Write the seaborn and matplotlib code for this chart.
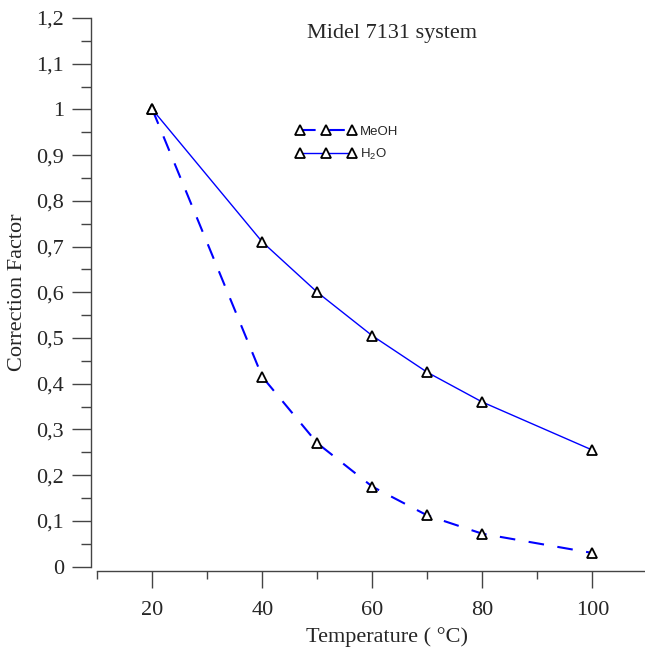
import matplotlib
matplotlib.use("Agg")
import matplotlib.pyplot as plt
import matplotlib.ticker as mticker
import seaborn as sns
import pandas as pd

temperature = [20, 40, 50, 60, 70, 80, 100]
h2o_factor = [1.0, 0.71, 0.60, 0.505, 0.425, 0.36, 0.255]
meoh_factor = [1.0, 0.415, 0.27, 0.175, 0.112, 0.072, 0.03]

df_h2o = pd.DataFrame({"temp": temperature, "factor": h2o_factor})
df_meoh = pd.DataFrame({"temp": temperature, "factor": meoh_factor})

sns.set_style("ticks")
plt.rcParams["font.family"] = ["Liberation Serif", "DejaVu Serif"]
plt.rcParams["mathtext.fontset"] = "custom"
plt.rcParams["mathtext.rm"] = "Liberation Sans"

fig = plt.figure(figsize=(6.45, 6.5), dpi=100)
ax = fig.add_axes([0.1509, 0.1282, 0.8527, 0.8442])

marker_kw = dict(marker="^", markersize=6.5, markerfacecolor="white",
                 markeredgecolor="black", markeredgewidth=1.3)

sns.lineplot(data=df_meoh, x="temp", y="factor", ax=ax, color="#0000ff",
             linewidth=1.5, **marker_kw)
sns.lineplot(data=df_h2o, x="temp", y="factor", ax=ax, color="#0000ff",
             linewidth=1.0, **marker_kw)
l_meoh, l_h2o = ax.get_lines()[:2]
l_meoh.set_dashes([7.5, 6.5])

ax.set_xlim(10, 110)
ax.set_ylim(0, 1.2)
ax.xaxis.set_major_locator(mticker.MultipleLocator(20))
ax.xaxis.set_minor_locator(mticker.MultipleLocator(10))
ax.yaxis.set_major_locator(mticker.MultipleLocator(0.1))
ax.yaxis.set_minor_locator(mticker.MultipleLocator(0.05))
ax.yaxis.set_major_formatter(
    mticker.FuncFormatter(lambda v, p: f"{v:.1f}".replace(".", ",").replace(",0", "")))

for s in ["top", "right"]:
    ax.spines[s].set_visible(False)
ax.spines["left"].set_position(("outward", 4.5))
ax.spines["bottom"].set_position(("outward", 3))
ax.spines["left"].set_bounds(0, 1.2)
ax.spines["bottom"].set_bounds(10, 110)
for s in ["left", "bottom"]:
    ax.spines[s].set_color("#444444")
    ax.spines[s].set_linewidth(1.0)

ax.tick_params(axis="y", which="major", length=13.5, width=1, color="#444444",
               labelsize=16, pad=6)
ax.tick_params(axis="y", which="minor", length=7, width=1, color="#444444")
ax.tick_params(axis="x", which="major", length=12.5, width=1, color="#444444",
               labelsize=16, pad=9)
ax.tick_params(axis="x", which="minor", length=6, width=1, color="#444444")

ax.set_xlabel("Temperature ( °C)", fontsize=16)
ax.set_ylabel("Correction Factor", fontsize=16)
ax.xaxis.set_label_coords(0.527, -0.128)
ax.yaxis.set_label_coords(-0.146, 0.5)
ax.xaxis.label.set_va("center")
ax.yaxis.label.set_va("center")

ax.text(0.536, 0.972, "Midel 7131 system", transform=ax.transAxes,
        ha="center", va="center", fontsize=16)

ax.legend([l_meoh, l_h2o], ["MeOH", "H$_2$O"], loc="upper left",
          bbox_to_anchor=(0.34, 0.826), frameon=False, numpoints=3,
          handlelength=4.5, handletextpad=0.3, labelspacing=0.7,
          prop={"family": "Liberation Sans", "size": 9.5})

fig.savefig("out.png", dpi=100)
